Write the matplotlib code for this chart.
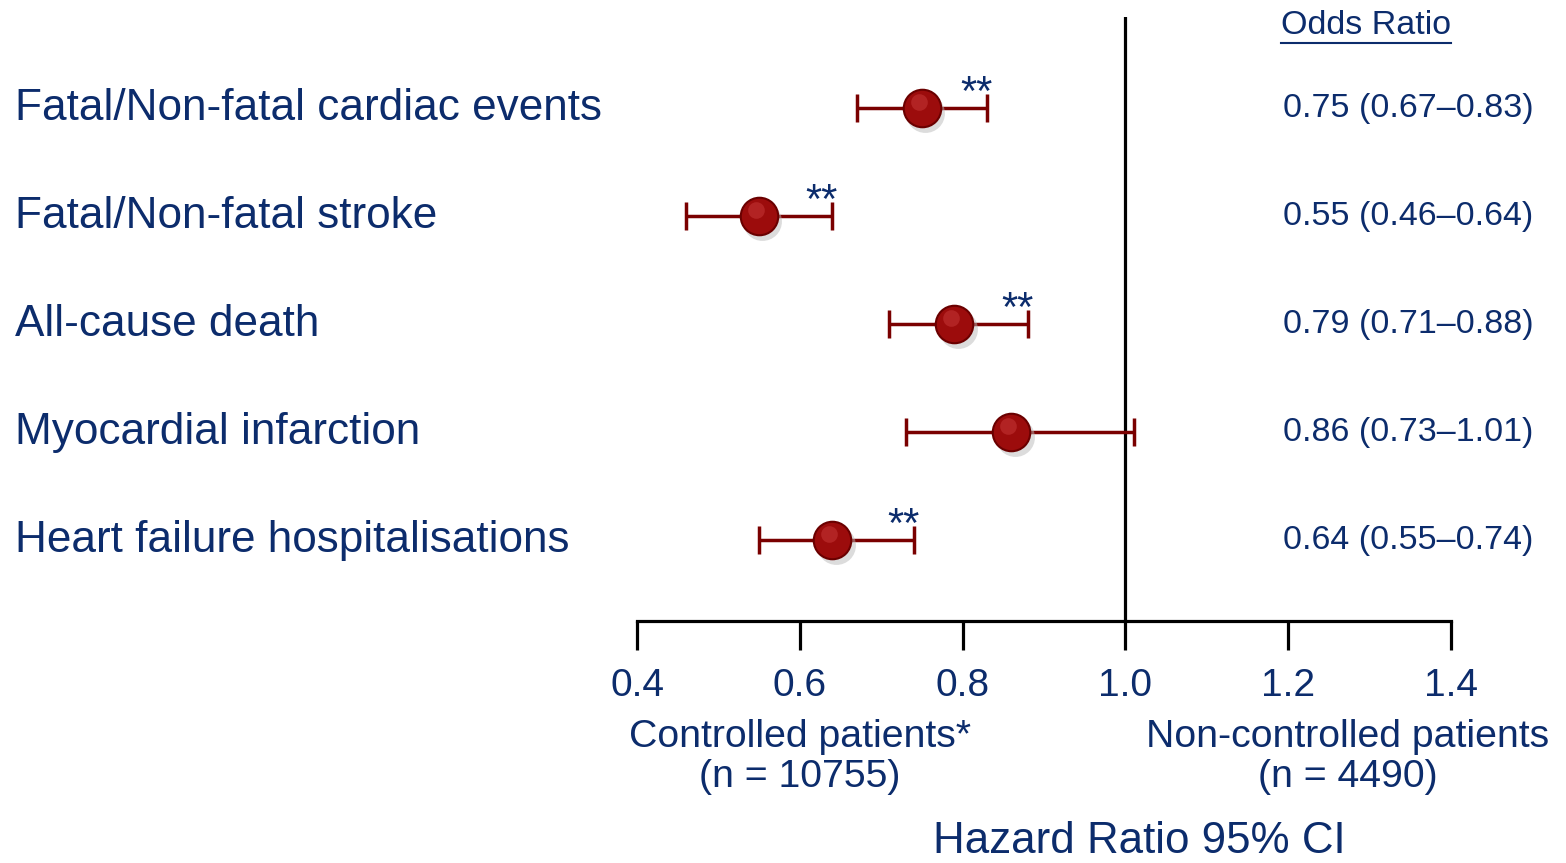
import numpy as np
import matplotlib.pyplot as plt
import matplotlib.transforms as mtransforms

plt.rcParams['font.family'] = ['Liberation Sans', 'DejaVu Sans']

outcomes = ['Fatal/Non-fatal cardiac events', 'Fatal/Non-fatal stroke', 'All-cause death',
            'Myocardial infarction', 'Heart failure hospitalisations']
hr = [0.75, 0.55, 0.79, 0.86, 0.64]
lo = [0.67, 0.46, 0.71, 0.73, 0.55]
hi = [0.83, 0.64, 0.88, 1.01, 0.74]
signif = ['**', '**', '**', '', '**']
xticks = [0.4, 0.6, 0.8, 1.0, 1.2, 1.4]

navy = '#0c2c6c'
red = '#9c0c0c'
dark = '#7a0000'

fig = plt.figure(figsize=(15.66, 8.63), dpi=100)
W, H = 1566, 863
ax = fig.add_axes([637 / W, (H - 621) / H, 814 / W, (621 - 17) / H])

y = np.arange(len(outcomes))
err = [np.array(hr) - np.array(lo), np.array(hi) - np.array(hr)]
ax.errorbar(hr, y, xerr=err, fmt='none', ecolor=dark, elinewidth=2.5,
            capsize=10, capthick=2.5, zorder=2)
# soft shadow, ball, highlight
ax.plot(np.array(hr) + 0.004, y + 0.05, 'o', ms=28, mfc='#bbbbbb', mec='none', alpha=0.5, zorder=2.5)
ax.plot(hr, y, 'o', ms=27, mfc=red, mec='#6a0000', mew=1.5, zorder=3)
ax.plot(np.array(hr) - 0.004, y - 0.06, 'o', ms=12, mfc='#c83a3a', mec='none', alpha=0.5, zorder=3.1)

for i in range(len(outcomes)):
    if signif[i]:
        ax.text(hi[i] + 0.007, y[i] - 0.13, signif[i], ha='right', va='center',
                fontsize=30, color=navy)
    ax.text(1.193, y[i], '{:.2f} ({:.2f}\u2013{:.2f})'.format(hr[i], lo[i], hi[i]),
            ha='left', va='center', fontsize=24.5, color=navy, clip_on=False)

ax.axvline(1.0, color='black', lw=2.3, zorder=1)

ax.set_xlim(0.4, 1.4)
ax.set_ylim(4 + 81 / 108, -91 / 108)
ax.set_xticks(xticks)
ax.set_xticklabels(['{:.1f}'.format(t) for t in xticks], fontsize=28, color=navy)
ax.tick_params(axis='x', length=21, width=2.3, pad=13, color='black')
ax.set_yticks([])
for s in ['top', 'right', 'left']:
    ax.spines[s].set_visible(False)
ax.spines['bottom'].set_linewidth(2.3)
ax.spines['bottom'].set_capstyle('projecting')

# outcome labels on the left
lbl_tr = mtransforms.blended_transform_factory(fig.transFigure, ax.transData)
for i, name in enumerate(outcomes):
    ax.text(15 / W, y[i], name, transform=lbl_tr, ha='left', va='center',
            fontsize=31.8, color=navy)

# header
hdr = ax.text(1.191, -0.76, 'Odds Ratio', ha='left', va='center', fontsize=24.5,
              color=navy, clip_on=False)
fig.canvas.draw()
bb = hdr.get_window_extent().transformed(ax.transData.inverted())
ax.plot([bb.x0, bb.x1], [bb.y0 + 0.01, bb.y0 + 0.01], color=navy, lw=1.5, clip_on=False)

# bottom captions
cap_tr = mtransforms.blended_transform_factory(ax.transData, fig.transFigure)
ax.text(0.6, 1 - 737 / H, 'Controlled patients*', transform=cap_tr, ha='center',
        va='center', fontsize=28.3, color=navy)
ax.text(0.6, 1 - 777 / H, '(n = 10755)', transform=cap_tr, ha='center',
        va='center', fontsize=28.3, color=navy)
ax.text(1.273, 1 - 737 / H, 'Non-controlled patients', transform=cap_tr, ha='center',
        va='center', fontsize=28.3, color=navy)
ax.text(1.273, 1 - 777 / H, '(n = 4490)', transform=cap_tr, ha='center',
        va='center', fontsize=28.3, color=navy)
ax.text(1.017, 1 / H, 'Hazard Ratio 95% CI', transform=cap_tr, ha='center',
        va='bottom', fontsize=31.6, color=navy)

fig.savefig('out.png', dpi=100)
